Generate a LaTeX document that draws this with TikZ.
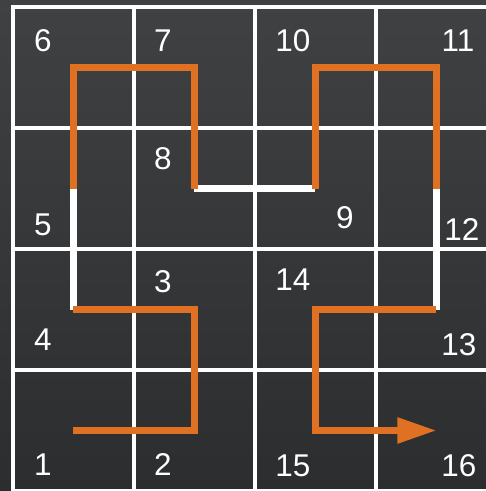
\documentclass[tikz,border=0pt]{standalone}
\usepackage{fontspec}
\setmainfont{Liberation Sans}
\usepackage{tikz}
\usetikzlibrary{arrows.meta}
\tikzset{>=Stealth}
\usepackage{xcolor}
\definecolor{curveorange}{RGB}{224,112,34}
\definecolor{bgtop}{RGB}{64,65,67}
\definecolor{bgbottom}{RGB}{44,45,46}

\begin{document}
\begin{tikzpicture}[
    gridline/.style={white, line width=0.75pt},
    cellnum/.style={white, inner sep=0pt, font=\fontsize{7.4}{8}\selectfont},
    curve/.style={curveorange, line width=1.6pt, line join=miter},
    jump/.style={white, line width=1.6pt}]
                % frame of the picture
                \useasboundingbox (-0.107,-4.0) rectangle (3.909,0.058);
                \clip (-0.107,-4.0) rectangle (3.909,0.058);
                \shade[top color=bgtop, bottom color=bgbottom] (-0.107,-4.0) rectangle (3.909,0.058);
                % 4x4 grid
                \draw[gridline] (0,0) rectangle (4,-4);
                \foreach \k in {1,2,3} {
                    \draw[gridline] (\k,0) -- (\k,-4);
                    \draw[gridline] (0,-\k) -- (4,-\k);
                }
                % cell centres in visiting order
                \coordinate (c1) at (0.5,-3.5);
                \coordinate (c2) at (1.5,-3.5);
                \coordinate (c3) at (1.5,-2.5);
                \coordinate (c4) at (0.5,-2.5);
                \coordinate (c5) at (0.5,-1.5);
                \coordinate (c6) at (0.5,-0.5);
                \coordinate (c7) at (1.5,-0.5);
                \coordinate (c8) at (1.5,-1.5);
                \coordinate (c9) at (2.5,-1.5);
                \coordinate (c10) at (2.5,-0.5);
                \coordinate (c11) at (3.5,-0.5);
                \coordinate (c12) at (3.5,-1.5);
                \coordinate (c13) at (3.5,-2.5);
                \coordinate (c14) at (2.5,-2.5);
                \coordinate (c15) at (2.5,-3.5);
                \coordinate (c16) at (3.5,-3.5);
                % cell numbers
                \node[cellnum] (n1) at (0.248,-3.785) {1};
                \node[cellnum] (n2) at (1.240,-3.785) {2};
                \node[cellnum] (n3) at (1.240,-2.273) {3};
                \node[cellnum] (n4) at (0.248,-2.752) {4};
                \node[cellnum] (n5) at (0.248,-1.800) {5};
                \node[cellnum] (n6) at (0.248,-0.281) {6};
                \node[cellnum] (n7) at (1.240,-0.281) {7};
                \node[cellnum] (n8) at (1.240,-1.252) {8};
                \node[cellnum] (n9) at (2.744,-1.744) {9};
                \node[cellnum] (n10) at (2.314,-0.281) {10};
                \node[cellnum] (n11) at (3.678,-0.281) {11};
                \node[cellnum] (n12) at (3.711,-1.835) {12};
                \node[cellnum] (n13) at (3.686,-2.793) {13};
                \node[cellnum] (n14) at (2.314,-2.256) {14};
                \node[cellnum] (n15) at (2.314,-3.793) {15};
                \node[cellnum] (n16) at (3.686,-3.793) {16};
                % links between the quarters
                \draw[jump] (c4) -- (c5);
                \draw[jump] (c8) -- (c9);
                \draw[jump] (c12) -- (c13);
                % the curve, quarter by quarter
                \draw[curve] (c1) -- (c2) -- (c3) -- (c4);
                \draw[curve] (c5) -- (c6) -- (c7) -- (c8);
                \draw[curve] (c9) -- (c10) -- (c11) -- (c12);
                \draw[curve, -{Triangle[length=9.2pt, width=5.8pt]}] (c13) -- (c14) -- (c15) -- (c16);
            \end{tikzpicture}
\end{document}
